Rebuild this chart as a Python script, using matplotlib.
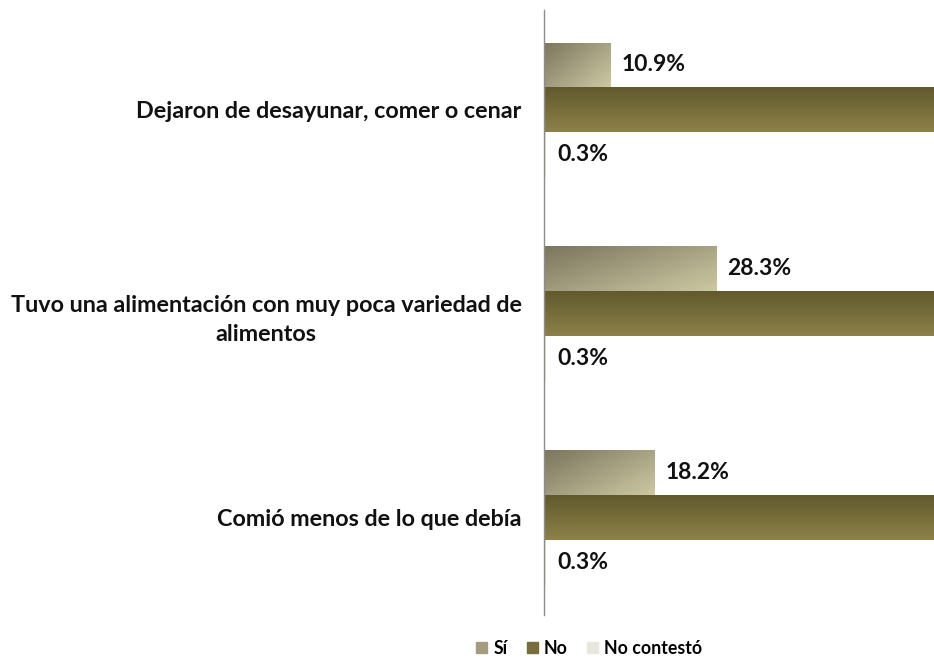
import numpy as np
import matplotlib
matplotlib.use("Agg")
import matplotlib.pyplot as plt
from matplotlib.colors import LinearSegmentedColormap
from matplotlib.patches import Patch

plt.rcParams['font.family'] = ['Lato', 'DejaVu Sans']

categories = ["Dejaron de desayunar, comer o cenar",
              "Tuvo una alimentación con muy poca variedad de\nalimentos",
              "Comió menos de lo que debía"]
series = ["Sí", "No", "No contestó"]
si = [10.9, 28.3, 18.2]
no = [88.8, 71.4, 81.5]
no_contesto = [0.3, 0.3, 0.3]

# gradient fills: (dark corner, light corner)
grad_si = ("#7b765d", "#cdc8a2")
grad_no = ("#625a2e", "#8c8149")
col_nc = "#e9e7dc"

fig = plt.figure(figsize=(9.34, 6.6), dpi=100)
ax = fig.add_axes([0.5824, 0.068, 0.4176, 0.917])

y = np.arange(len(categories))
h = 0.22

bars_si = ax.barh(y - h, si, height=h, color=grad_si[1], edgecolor="none")
bars_no = ax.barh(y, no, height=h, color=grad_no[1], edgecolor="none")
bars_nc = ax.barh(y + h, no_contesto, height=h, color=col_nc, edgecolor="none")


def shade(bars, c0, c1, diagonal):
    cmap = LinearSegmentedColormap.from_list("g", [c0, c1])
    for b in bars:
        x0, y0 = b.get_x(), b.get_y()
        w, hh = b.get_width(), b.get_height()
        if diagonal:
            gx, gy = np.meshgrid(np.linspace(0, 1, 64), np.linspace(0, 1, 64))
            g = 0.55 * gx + 0.45 * gy
        else:
            g = np.tile(np.linspace(0, 1, 64)[:, None], (1, 2))
        im = ax.imshow(g, cmap=cmap, aspect="auto", origin="upper",
                       extent=[x0, x0 + w, y0 + hh, y0], zorder=2)
        im.set_clip_path(b)


shade(bars_si, grad_si[0], grad_si[1], True)
shade(bars_no, grad_no[0], grad_no[1], False)
ax.set_xlim(0, 64.1)
ax.set_ylim(2.48, -0.49)

for bars, vals in [(bars_si, si), (bars_nc, no_contesto)]:
    for b, v in zip(bars, vals):
        ax.annotate("{:.1f}%".format(v), (b.get_width(), b.get_y() + b.get_height() / 2),
                    xytext=(8, 0), textcoords="offset points", ha="left", va="center",
                    fontsize=16.5, fontweight="bold", color="#111111", zorder=4)

ax.set_yticks(y)
ax.set_yticklabels(categories, fontsize=16.8, fontweight="bold", color="#111111",
                   linespacing=1.5)
for lbl in ax.get_yticklabels():
    lbl.set_multialignment("center")
ax.tick_params(axis="y", length=0, pad=16)
ax.set_xticks([])
for s in ["top", "right", "bottom"]:
    ax.spines[s].set_visible(False)
ax.spines["left"].set_color("#8c8c8c")
ax.spines["left"].set_linewidth(1)

handles = [Patch(color="#a39e7e"), Patch(color="#776d3d"), Patch(color=col_nc)]
fig.legend(handles, series, loc="center", bbox_to_anchor=(0.631, 0.018), ncol=3,
           frameon=False, prop={"weight": "bold", "size": 12.8},
           handlelength=0.6, handleheight=0.6, handletextpad=0.35, columnspacing=1.1)

plt.savefig("out.png", dpi=100)
